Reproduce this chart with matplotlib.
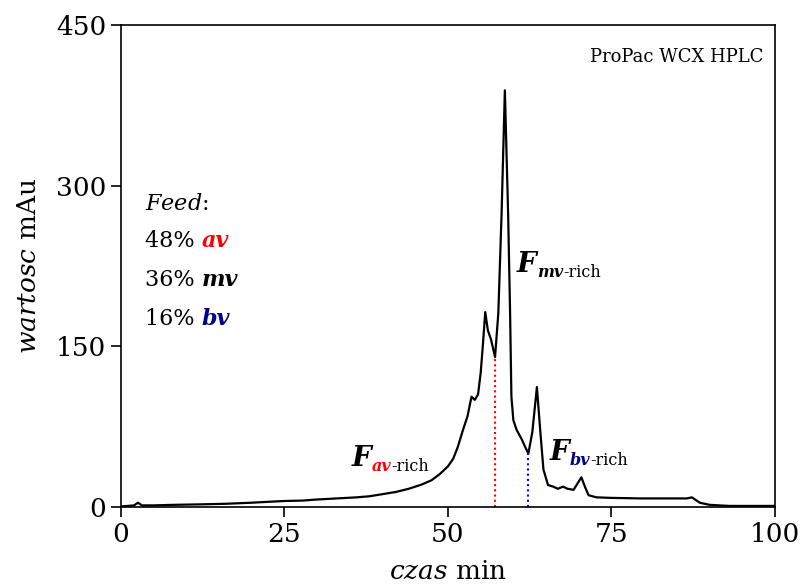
import numpy as np
import matplotlib.pyplot as plt
from matplotlib.transforms import offset_copy

plt.rcParams['font.family'] = 'DejaVu Serif'
plt.rcParams['mathtext.fontset'] = 'custom'
plt.rcParams['mathtext.rm'] = 'DejaVu Serif'
plt.rcParams['mathtext.it'] = 'DejaVu Serif:italic'

# chromatogram (time in min, signal in mAu)
czas = [0, 2.0, 2.6, 3.2, 5, 8, 12.5, 16, 20, 23, 25, 27.8, 30, 33, 36, 38, 40, 42,
        44, 46, 47.5, 48.8, 50, 50.8, 51.5, 52.3, 53, 53.6, 54.1, 54.6, 55.0, 55.3,
        55.7, 56.1, 56.6, 57.2, 57.7, 58.2, 58.7, 59.2, 59.5, 59.7, 60.0, 60.5, 61.3,
        61.8, 62.3, 62.9, 63.6, 64.1, 64.6, 65.3, 66.1, 66.8, 67.6, 68.3, 69.2, 70.4,
        71.0, 71.5, 72.7, 75, 79.4, 83, 86.5, 87.3, 88.5, 90, 93, 96, 100]
sygnal = [0.5, 1.5, 4, 1.5, 1.5, 2, 2.5, 3, 4, 5, 5.6, 6, 7, 8, 9, 10, 12, 14,
          17, 21, 25, 31, 38, 45, 56, 72, 85, 103, 100, 105, 125, 148,
          182, 165, 156, 140, 181, 274, 389, 274, 181, 103, 81, 72, 63,
          56, 50, 70, 112, 72, 35, 20.5, 19, 17, 19, 17, 16, 27.7,
          18, 11, 9, 8.5, 8, 8, 8, 9, 4, 2, 1, 1, 1]

# cut points (dotted lines)
ciecie_x = [57.2, 62.3]
ciecie_y = [140, 50]
ciecie_kol = ['#ff0000', '#0000ff']

feed_proc = ['48%', '36%', '16%']
feed_nazwy = ['av', 'mv', 'bv']
feed_kol = ['#ff0000', 'black', '#00008b']

fig = plt.figure(figsize=(8.01, 5.87), dpi=100)
ax = fig.add_axes([0.151, 0.1363, 0.8165, 0.8211])
rend = fig.canvas.get_renderer()


def kawalki(x, y, czesci):
    # draws text pieces one after another: (text, size, color, weight, style, dy in px)
    dx = 0.0
    for tekst, size, kol, w, st, dy in czesci:
        tr = offset_copy(ax.transData, fig=fig, x=dx, y=dy, units='dots')
        t = ax.text(x, y, tekst, transform=tr, fontsize=size, color=kol,
                    weight=w, style=st, va='baseline')
        dx += t.get_window_extent(rend).width


ax.plot(czas, sygnal, color='black', lw=1.6)
for x, y, k in zip(ciecie_x, ciecie_y, ciecie_kol):
    ax.plot([x, x], [0, y], color=k, lw=1.5, ls=(0, (1, 1.5)))

ax.set_xlim(0, 100)
ax.set_ylim(0, 450)
ax.set_xticks([0, 25, 50, 75, 100])
ax.set_yticks([0, 150, 300, 450])
ax.tick_params(labelsize=19, length=7, width=1.2, direction='out')
for s in ax.spines.values():
    s.set_linewidth(1.2)

ax.set_xlabel(r'$\it{czas}$ min', fontsize=19, labelpad=9)
ax.set_ylabel(r'$\it{wartosc}$ mAu', fontsize=19, labelpad=11)

ax.text(98.3, 415, 'ProPac WCX HPLC', fontsize=13, ha='right', va='baseline')

# feed composition
ax.text(3.7, 277, r'$\it{Feed}$:', fontsize=16, va='baseline')
for i, (p, n, k) in enumerate(zip(feed_proc, feed_nazwy, feed_kol)):
    kawalki(3.7, 243 - i * 36.5, [(p + ' ', 16, 'black', 'normal', 'normal', 0),
                                   (n, 16, k, 'bold', 'italic', 0)])

# fraction labels
frakcje = [(35.3, 38.3, 'av', '#ff0000'), (60.55, 219, 'mv', 'black'),
           (65.6, 43.9, 'bv', '#00008b')]
for x, y, n, k in frakcje:
    kawalki(x, y, [('F', 20, 'black', 'bold', 'italic', 0),
                   (n, 11.5, k, 'bold', 'italic', -5),
                   ('-rich', 11.5, 'black', 'normal', 'normal', -5)])

fig.savefig('out.png', dpi=100)
